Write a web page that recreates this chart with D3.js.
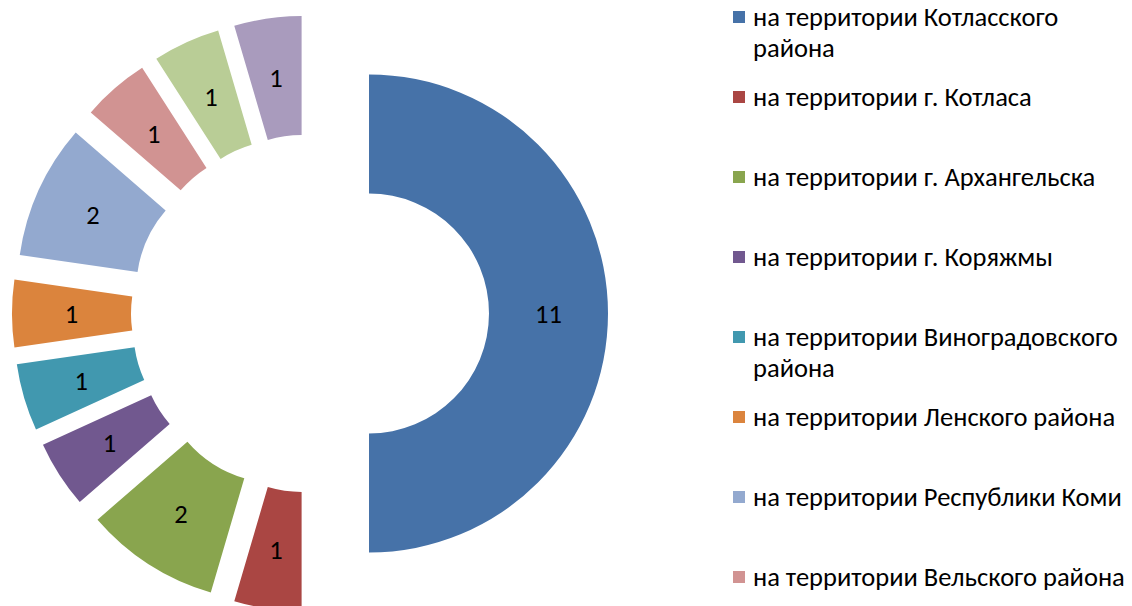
<!DOCTYPE html>
<html><head><meta charset="utf-8">
<script src="https://cdn.jsdelivr.net/npm/d3@7"></script>
<style>body{margin:0;background:#fff} svg{display:block}</style>
</head><body><svg id="c" width="1132" height="606"></svg>
<script>
const categories = [
  "на территории Котласского района",
  "на территории г. Котласа",
  "на территории г. Архангельска",
  "на территории г. Коряжмы",
  "на территории Виноградовского района",
  "на территории Ленского района",
  "на территории Республики Коми",
  "на территории Вельского района",
  "на территории Устьянского района",
  "на территории Красноборского района"
];
const values = [11, 1, 2, 1, 1, 1, 2, 1, 1, 1];
const colors = ["#4672A8","#AA4643","#89A54E","#71588F","#4198AF","#DB843D","#93A9CF","#D19392","#B9CD96","#A99BBD"];

const W = 1132, H = 606;
const svg = d3.select("#c");
const FONT = "Carlito, Calibri, 'Open Sans', 'Noto Sans', sans-serif";

// fit font size so that the longest one-line legend entry matches the reference width
const probe = svg.append("text").attr("font-family", FONT).attr("font-size", 20)
  .text("на территории Вельского района");
const pw = probe.node().getComputedTextLength();
probe.remove();
const fs = 20 * 372 / pw;

const cx = 310, cy = 313.5, R = 239, r = 120, explode = 59;
const data = categories.map((c, i) => ({name: c, value: values[i], color: colors[i]}));
const pie = d3.pie().sort(null).value(d => d.value);
const arc = d3.arc().innerRadius(r).outerRadius(R);
const arcs = pie(data);

const g = svg.append("g").attr("transform", `translate(${cx},${cy})`);
const slice = g.selectAll("g.s").data(arcs).join("g").attr("class", "s")
  .attr("transform", d => {
    const a = (d.startAngle + d.endAngle) / 2;
    return `translate(${explode * Math.sin(a)},${-explode * Math.cos(a)})`;
  });
slice.append("path").attr("d", arc).attr("fill", d => d.data.color);
slice.append("text")
  .attr("transform", d => `translate(${arc.centroid(d)})`)
  .attr("text-anchor", "middle").attr("dy", "0.35em")
  .attr("font-family", FONT).attr("font-size", fs).attr("fill", "#000")
  .text(d => d.data.value);

// legend
const lx = 733, tx = 753, y0 = 17, step = 80, lineH = 31, maxW = 380, ms = 12;
const leg = svg.append("g");
data.forEach((d, i) => {
  const y = y0 + i * step;
  if (y > H - 10) return; // entries that do not fit are not shown
  const item = leg.append("g");
  item.append("rect").attr("x", lx).attr("y", y - ms / 2).attr("width", ms).attr("height", ms).attr("fill", d.color);
  const t = item.append("text").attr("font-family", FONT).attr("font-size", fs).attr("fill", "#000");
  const words = d.name.split(" ");
  let line = [], ln = 0;
  let ts = t.append("tspan").attr("x", tx).attr("y", y).attr("dy", "0.35em");
  words.forEach(w => {
    line.push(w);
    ts.text(line.join(" "));
    if (ts.node().getComputedTextLength() > maxW && line.length > 1) {
      line.pop();
      ts.text(line.join(" "));
      line = [w];
      ln++;
      ts = t.append("tspan").attr("x", tx).attr("y", y + ln * lineH).attr("dy", "0.35em").text(w);
    }
  });
});
</script>
</body></html>
